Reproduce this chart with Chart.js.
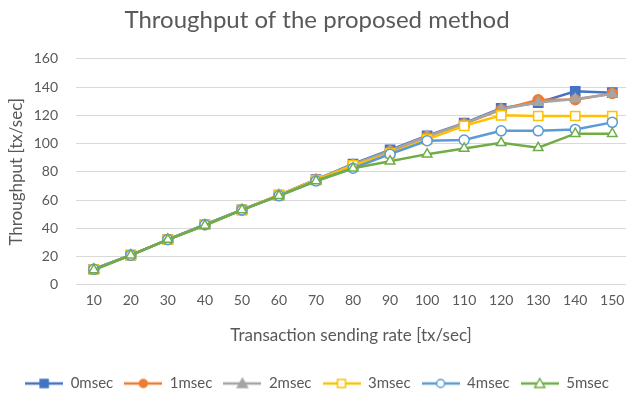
<!DOCTYPE html>
<html>
<head>
<meta charset="utf-8">
<script src="https://cdn.jsdelivr.net/npm/chart.js@4/dist/chart.umd.min.js"></script>
<style>
  html, body { margin: 0; padding: 0; background: #ffffff; }
  #wrap { width: 634px; height: 401px; position: relative; }
</style>
</head>
<body>
<div id="wrap"><canvas id="chart"></canvas></div>
<script>
// Sending rates (tx/sec) on the x axis
const categories = [10, 20, 30, 40, 50, 60, 70, 80, 90, 100, 110, 120, 130, 140, 150];
// Y axis tick values
const yTicks = [0, 20, 40, 60, 80, 100, 120, 140, 160];

// Measured throughput (tx/sec) for each delay setting
const series0msec = [11, 21, 32, 42.5, 53, 63.5, 74.5, 85.5, 95.5, 105.5, 114.5, 125, 129, 137, 136];
const series1msec = [11, 21, 32, 42.5, 53, 63.5, 74.5, 85, 94.5, 105, 114, 124, 131, 131, 135.5];
const series2msec = [11, 21, 32, 42.5, 53, 63.5, 74.5, 85, 95, 105, 114, 124.5, 129, 131.5, 135];
const series3msec = [11, 21, 32, 42.5, 53, 63.5, 74, 84.5, 93, 103, 112.5, 120, 119.5, 119.5, 119.5];
const series4msec = [11, 21, 32, 42.5, 53, 63, 73.5, 82.5, 92.5, 102, 102.5, 109, 109, 110, 115];
const series5msec = [10.5, 21, 32, 42, 53, 63, 73.5, 82.5, 87.5, 92.5, 96.5, 100.5, 97, 107, 107];

const seriesLabels = ['0msec', '1msec', '2msec', '3msec', '4msec', '5msec'];
const seriesValues = [series0msec, series1msec, series2msec, series3msec, series4msec, series5msec];

const FONT = 'Lato, "Open Sans", sans-serif';
const TEXT = '#595959';

const styles = [
  { color: '#4472C4', shape: 'rect',     radius: 6.5, hollow: false },
  { color: '#ED7D31', shape: 'circle',   radius: 5,   hollow: false },
  { color: '#A5A5A5', shape: 'triangle', radius: 5.5, hollow: false },
  { color: '#FFC000', shape: 'rect',     radius: 6.5, hollow: true  },
  { color: '#5B9BD5', shape: 'circle',   radius: 5,   hollow: true  },
  { color: '#70AD47', shape: 'triangle', radius: 5.5, hollow: true  }
];

const datasets = seriesLabels.map((label, i) => {
  const st = styles[i];
  return {
    label: label,
    data: categories.map((c, j) => ({ x: c, y: seriesValues[i][j] })),
    borderColor: st.color,
    backgroundColor: st.color,
    borderWidth: 2.5,
    pointStyle: st.shape,
    pointRadius: st.radius,
    pointBackgroundColor: st.hollow ? '#ffffff' : st.color,
    pointBorderColor: st.color,
    pointBorderWidth: 1.5,
    tension: 0,
    // later series sit on top of earlier ones
    order: seriesLabels.length - i
  };
});

// Legend swatch: a short line with the series marker on it
function legendSwatch(st) {
  const c = document.createElement('canvas');
  c.width = 38; c.height = 14;
  const ctx = c.getContext('2d');
  ctx.strokeStyle = st.color;
  ctx.lineWidth = 2.5;
  ctx.beginPath(); ctx.moveTo(0, 7); ctx.lineTo(38, 7); ctx.stroke();
  ctx.fillStyle = st.hollow ? '#ffffff' : st.color;
  ctx.lineWidth = 1.5;
  ctx.beginPath();
  if (st.shape === 'rect') {
    ctx.rect(19 - 4, 7 - 4, 8, 8);
  } else if (st.shape === 'circle') {
    ctx.arc(19, 7, 4, 0, Math.PI * 2);
  } else {
    ctx.moveTo(19, 2); ctx.lineTo(24, 11); ctx.lineTo(14, 11); ctx.closePath();
  }
  ctx.fill(); ctx.stroke();
  return c;
}
const swatches = styles.map(legendSwatch);

new Chart(document.getElementById('chart'), {
  type: 'line',
  data: { datasets: datasets },
  options: {
    responsive: true,
    maintainAspectRatio: false,
    animation: false,
    layout: { padding: { left: 0, right: 0, top: 0, bottom: 0 } },
    plugins: {
      title: {
        display: true,
        text: 'Throughput of the proposed method',
        color: TEXT,
        font: { family: FONT, size: 24, weight: 'normal' },
        padding: { top: 6, bottom: 24 }
      },
      legend: {
        position: 'bottom',
        labels: {
          usePointStyle: true,
          pointStyleWidth: 38,
          color: TEXT,
          padding: 11,
          font: { family: FONT, size: 15 },
          generateLabels: () => seriesLabels.map((label, i) => ({
            text: label,
            pointStyle: swatches[i],
            fillStyle: styles[i].color,
            strokeStyle: styles[i].color,
            lineWidth: 0,
            hidden: false,
            fontColor: TEXT,
            datasetIndex: i
          }))
        }
      },
      tooltip: { enabled: false }
    },
    scales: {
      x: {
        type: 'linear',
        min: 5.2,
        max: 153.7,
        afterBuildTicks: (scale) => { scale.ticks = categories.map(v => ({ value: v })); },
        grid: { display: false, drawTicks: false },
        border: { display: false },
        ticks: {
          color: TEXT,
          font: { family: FONT, size: 14 },
          padding: 7,
          autoSkip: false,
          maxRotation: 0,
          callback: (v) => String(v)
        },
        title: {
          display: true,
          text: 'Transaction sending rate [tx/sec]',
          color: TEXT,
          font: { family: FONT, size: 17 },
          padding: { top: 10, bottom: 19 }
        }
      },
      y: {
        min: 0,
        max: 160,
        afterBuildTicks: (scale) => { scale.ticks = yTicks.map(v => ({ value: v })); },
        afterFit: (scale) => { scale.width = 76; },
        grid: { color: '#D9D9D9', lineWidth: 1, drawTicks: false },
        border: { display: false },
        ticks: {
          color: TEXT,
          font: { family: FONT, size: 14 },
          padding: 18
        },
        title: {
          display: true,
          text: 'Throughput [tx/sec]',
          color: TEXT,
          font: { family: FONT, size: 17 },
          padding: { top: 6, bottom: 0 }
        }
      }
    }
  }
});
</script>
</body>
</html>
